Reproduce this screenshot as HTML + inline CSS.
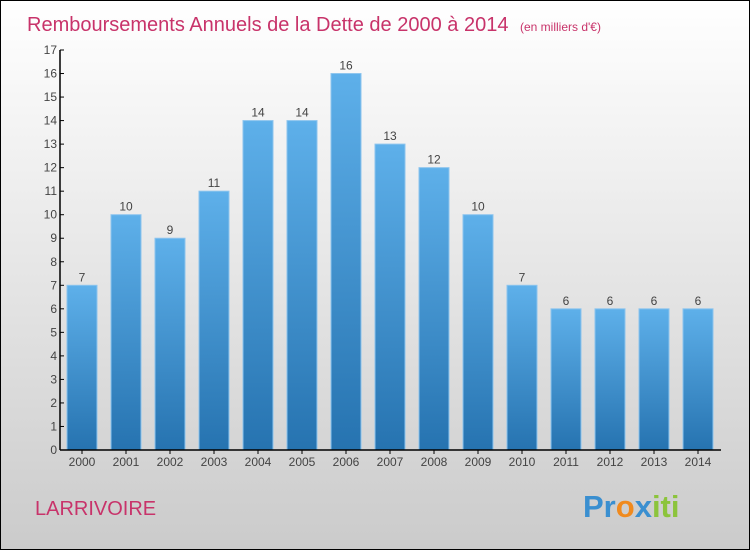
<!DOCTYPE html>
<html><head><meta charset="utf-8"><style>
body{margin:0}
#wrap{width:748px;height:548px;border:1px solid #000;background:linear-gradient(#fff,#f0f0f0 30%,#cbcbcb);position:relative;overflow:hidden;font-family:"Liberation Sans",sans-serif}
svg{position:absolute;left:0;top:0}
</style></head><body>
<div id="wrap">
<svg width="748" height="548">
<defs>
<linearGradient id="bg" x1="0" y1="0" x2="0" y2="1"><stop offset="0" stop-color="#5eb0ea"/><stop offset="1" stop-color="#2673b0"/></linearGradient>
</defs>
<text x="26" y="30" font-size="20" fill="#c8336a">Remboursements Annuels de la Dette de 2000 à 2014 <tspan font-size="12" dx="6">(en milliers d'€)</tspan></text>
<text x="34" y="514" font-size="20" fill="#c8336a">LARRIVOIRE</text>
<text x="582" y="516" font-size="31" font-weight="bold"><tspan fill="#3a8fd0">Pr</tspan><tspan fill="#f08a1e">o</tspan><tspan fill="#3a8fd0">x</tspan><tspan fill="#8cc43c">iti</tspan></text>
<g id="plot"></g>
</svg>
</div>
<script>
const categories=["2000","2001","2002","2003","2004","2005","2006","2007","2008","2009","2010","2011","2012","2013","2014"];
const values=[7,10,9,11,14,14,16,13,12,10,7,6,6,6,6];
const ticks=[0,1,2,3,4,5,6,7,8,9,10,11,12,13,14,15,16,17];
const NS="http://www.w3.org/2000/svg";
const g=document.getElementById('plot');
const y0=449,y1=49,ymax=17,x0=59;
const ys=v=>y0-(v/ymax)*(y0-y1);
const xs=i=>81+44*i;
function mk(t,a){const e=document.createElementNS(NS,t);for(const k in a)e.setAttribute(k,a[k]);g.appendChild(e);return e;}
values.forEach((v,i)=>{
 const r=mk('rect',{x:xs(i)-15,y:ys(v),width:30,height:y0-ys(v),fill:'url(#bg)',stroke:'#8cc4ee','stroke-width':1});
 
 
 const t=mk('text',{x:xs(i),y:ys(v)-4,'text-anchor':'middle','font-size':12,fill:'#444'});t.textContent=v;
 
 
 const c=mk('text',{x:xs(i),y:y0+16,'text-anchor':'middle','font-size':12,fill:'#444'});c.textContent=categories[i];
 
 
});
ticks.forEach(v=>{
 mk('line',{x1:x0,x2:x0+4,y1:ys(v),y2:ys(v),stroke:'#000'});
 const t=mk('text',{x:x0-3,y:ys(v)+4,'text-anchor':'end','font-size':12,fill:'#444'});t.textContent=v;
 
 
});
const ya=mk('line',{x1:x0,x2:x0,y1:y1,y2:y0,stroke:'#000','stroke-width':1.5});


const xa=mk('line',{x1:x0,x2:720,y1:y0,y2:y0,stroke:'#000','stroke-width':1.5});


categories.forEach((c,i)=>mk('line',{x1:xs(i),x2:xs(i),y1:y0,y2:y0+4,stroke:'#000'}));
</script>
</body></html>
